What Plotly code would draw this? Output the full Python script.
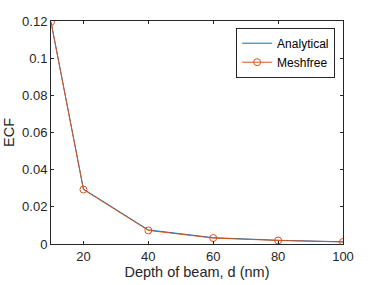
import plotly.graph_objects as go

depth = [10, 20, 40, 60, 80, 100]
ecf_analytical = [0.1195, 0.0296, 0.0076, 0.0034, 0.0020, 0.0012]
ecf_meshfree = [0.1195, 0.0293, 0.0073, 0.0032, 0.0019, 0.0011]
x_ticks = [20, 40, 60, 80, 100]
y_ticks = [0, 0.02, 0.04, 0.06, 0.08, 0.1, 0.12]
y_tick_labels = ["0", "0.02", "0.04", "0.06", "0.08", "0.1", "0.12"]

fig = go.Figure()
fig.add_trace(go.Scatter(x=depth, y=ecf_analytical, mode="lines", name="Analytical",
                         line=dict(color="#0072BD", width=1)))
fig.add_trace(go.Scatter(x=depth, y=ecf_meshfree, mode="lines+markers", name="Meshfree",
                         line=dict(color="#D95319", width=1),
                         marker=dict(symbol="circle-open", size=7, color="#D95319",
                                     line=dict(width=1, color="#D95319"))))

axis_common = dict(showgrid=False, zeroline=False, showline=True, linecolor="#262626",
                   linewidth=1, mirror="allticks", ticks="inside", ticklen=3,
                   tickcolor="#262626", tickwidth=1, automargin=False,
                   tickfont=dict(family="Liberation Sans, Arial", size=13, color="#262626"))

fig.update_layout(
    width=379, height=285,
    margin=dict(l=51, r=36, t=21, b=41),
    paper_bgcolor="white", plot_bgcolor="white",
    font=dict(family="Liberation Sans, Arial", color="#262626"),
    xaxis=dict(range=[10, 100], tickvals=x_ticks,
               title=dict(text="Depth of beam, d (nm)", font=dict(size=14.5), standoff=3),
               **axis_common),
    yaxis=dict(range=[0, 0.12], tickvals=y_ticks, ticktext=y_tick_labels,
               title=dict(text="ECF", font=dict(size=14.5), standoff=4),
               **axis_common),
    legend=dict(x=0.973, y=0.97, xanchor="right", yanchor="top",
                bgcolor="white", bordercolor="#262626", borderwidth=1,
                font=dict(size=12, color="black"), tracegroupgap=0,
                itemwidth=30),
    showlegend=True,
)

fig.write_html("out.html", config={"displayModeBar": False},
               post_script="document.body.style.margin='0';document.body.style.overflow='hidden';")
